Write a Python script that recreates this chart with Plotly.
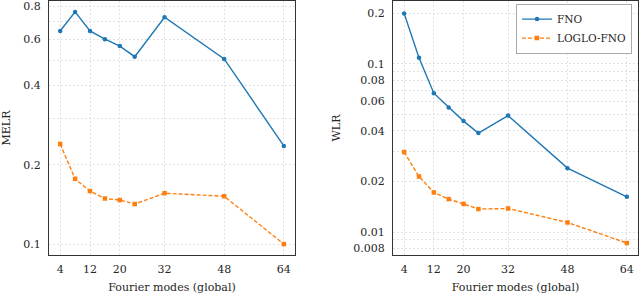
import plotly.graph_objects as go
from plotly.subplots import make_subplots

modes = [4, 8, 12, 16, 20, 24, 32, 48, 64]
melr_fno = [0.645, 0.762, 0.645, 0.600, 0.565, 0.515, 0.727, 0.505, 0.236]
melr_loglo = [0.240, 0.177, 0.159, 0.149, 0.147, 0.142, 0.156, 0.152, 0.100]
wlr_fno = [0.200, 0.109, 0.067, 0.055, 0.0457, 0.0388, 0.0493, 0.0240, 0.0162]
wlr_loglo = [0.0299, 0.0214, 0.0172, 0.0157, 0.0147, 0.0137, 0.0138, 0.0114, 0.0086]

x_ticks = [4, 12, 20, 32, 48, 64]
melr_grid = [0.1, 0.2, 0.3, 0.4, 0.5, 0.6, 0.7, 0.8, 0.9]
melr_labels = ["0.1", "0.2", "", "0.4", "", "0.6", "", "0.8", ""]
wlr_grid = [0.008, 0.009, 0.01, 0.02, 0.03, 0.04, 0.05, 0.06, 0.07, 0.08, 0.09, 0.1, 0.2]
wlr_labels = ["0.008", "", "0.01", "0.02", "", "0.04", "", "0.06", "", "0.08", "", "0.1", "0.2"]

BLUE = "#1f77b4"
ORANGE = "#ff7f0e"
FONT = "DejaVu Serif"
TXT = "#262626"

fig = make_subplots(rows=1, cols=2)

for col, (fno, loglo) in enumerate([(melr_fno, melr_loglo), (wlr_fno, wlr_loglo)], start=1):
    fig.add_trace(go.Scatter(x=modes, y=fno, mode="lines+markers", name="FNO",
                             line=dict(color=BLUE, width=1.4),
                             marker=dict(symbol="circle", size=4.5, color=BLUE),
                             showlegend=(col == 2)), row=1, col=col)
    fig.add_trace(go.Scatter(x=modes, y=loglo, mode="lines+markers", name="LOGLO-FNO",
                             line=dict(color=ORANGE, width=1.4, dash="4px,2px"),
                             marker=dict(symbol="square", size=4.5, color=ORANGE),
                             showlegend=(col == 2)), row=1, col=col)

axis_common = dict(showline=True, mirror=True, linecolor="#333333", linewidth=1.3,
                   showgrid=True, gridcolor="#e2e2e2", gridwidth=0.8, griddash="2px,2px",
                   zeroline=False, ticks="", tickfont=dict(family=FONT, size=11, color=TXT),
                   title_font=dict(family=FONT, size=11, color=TXT))

fig.update_xaxes(**axis_common, range=[1, 67], tickvals=x_ticks,
                 title_text="Fourier modes (global)", title_standoff=8, ticklabelstandoff=4)

fig.update_layout(
    xaxis=dict(domain=[49 / 640, 295 / 640]),
    xaxis2=dict(domain=[393 / 640, 638 / 640]),
)
fig.update_yaxes(**axis_common)
fig.update_yaxes(type="log", range=[-1.0414, -0.0767], tickvals=melr_grid, ticktext=melr_labels,
                 title_text="MELR", title_standoff=10, ticklabelstandoff=5, row=1, col=1)
fig.update_yaxes(type="log", range=[-2.1367, -0.6253], tickvals=wlr_grid, ticktext=wlr_labels,
                 title_text="WLR", title_standoff=10, ticklabelstandoff=5, row=1, col=2)

fig.update_layout(
    width=640, height=294,
    margin=dict(l=0, r=0, t=1, b=39),
    paper_bgcolor="white", plot_bgcolor="white",
    font=dict(family=FONT, size=11, color=TXT),
    legend=dict(x=632 / 640, y=1 - 3 / 294, xanchor="right", yanchor="top",
                bgcolor="white", bordercolor="#aaaaaa", borderwidth=1,
                font=dict(family=FONT, size=10.5, color=TXT),
                tracegroupgap=0, itemwidth=30),
)

fig.write_html("out.html", config={"displayModeBar": False},
               post_script="document.body.style.margin='0';document.body.style.overflow='hidden';")
